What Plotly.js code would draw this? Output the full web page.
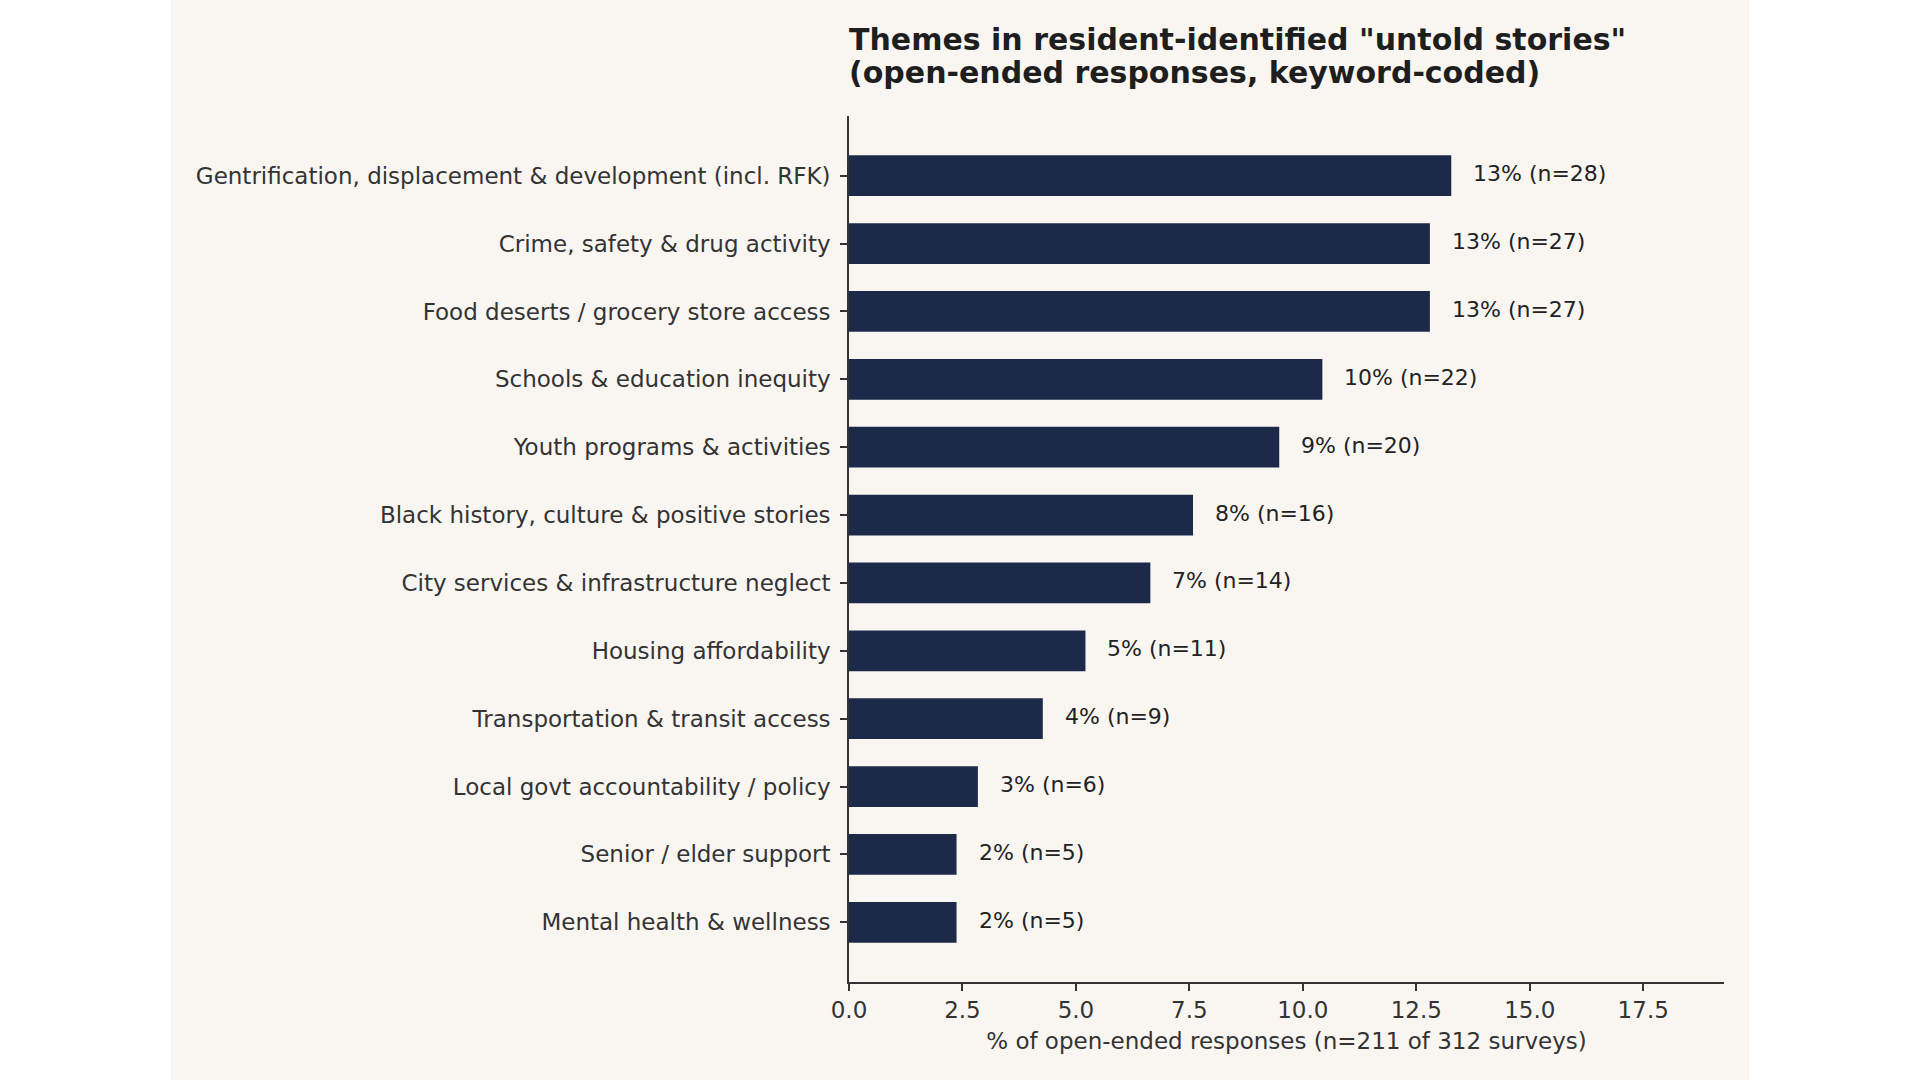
<!DOCTYPE html>
<html>
<head>
<meta charset="utf-8">
<script src="https://cdn.plot.ly/plotly-3.0.1.min.js"></script>
<style>
  html, body { margin: 0; padding: 0; background: #ffffff; }
  #themes_chart { position: absolute; left: 171px; top: 0; width: 1578px; height: 1080px; }
</style>
</head>
<body>
<div id="themes_chart"></div>
<script>
  // themes, top to bottom as drawn
  let themes = [
    "Gentrification, displacement & development (incl. RFK)",
    "Crime, safety & drug activity",
    "Food deserts / grocery store access",
    "Schools & education inequity",
    "Youth programs & activities",
    "Black history, culture & positive stories",
    "City services & infrastructure neglect",
    "Housing affordability",
    "Transportation & transit access",
    "Local govt accountability / policy",
    "Senior / elder support",
    "Mental health & wellness",
  ];
  // % of open-ended responses
  let shares = [13.27, 12.8, 12.8, 10.43, 9.48, 7.58, 6.64, 5.21, 4.27, 2.84, 2.37, 2.37];
  // number of responses per theme
  let counts = [28, 27, 27, 22, 20, 16, 14, 11, 9, 6, 5, 5];
  let xTicks = [0, 2.5, 5, 7.5, 10, 12.5, 15, 17.5];
  let titleLines = [
    "Themes in resident-identified \"untold stories\"",
    "(open-ended responses, keyword-coded)",
  ];

  let textColor = "#333333";
  let font = "DejaVu Sans, Liberation Sans, sans-serif";

  let traces = [
    {
      type: "bar",
      orientation: "h",
      x: shares,
      y: themes,
      width: 0.6,
      marker: { color: "#1c2949", line: { width: 0 } },
      hoverinfo: "x+y",
    },
  ];

  let labels = shares.map((v, i) => ({
    x: v,
    y: themes[i],
    xref: "x",
    yref: "y",
    text: Math.round(v) + "% (n=" + counts[i] + ")",
    showarrow: false,
    xanchor: "left",
    yanchor: "middle",
    xshift: 20,
    yshift: 2,
    font: { family: font, size: 22, color: "#222222" },
  }));

  // second title line (plotly's <br> spacing is looser than the original)
  labels.push({
    text: "<b>" + titleLines[1] + "</b>",
    xref: "paper",
    yref: "paper",
    x: 0,
    y: 1.0508,
    xanchor: "left",
    yanchor: "middle",
    xshift: -2,
    showarrow: false,
    font: { family: font, size: 30, color: "#1e1e1e" },
  });

  let layout = {
    width: 1578,
    height: 1080,
    paper_bgcolor: "#f9f6f2",
    plot_bgcolor: "#f9f6f2",
    margin: { l: 678, r: 25, t: 116, b: 98 },
    showlegend: false,
    font: { family: font, color: textColor },
    title: {
      text: "<b>" + titleLines[0] + "</b>",
      font: { family: font, size: 30, color: "#1e1e1e" },
      xref: "paper",
      x: 0,
      xanchor: "left",
      yref: "container",
      y: 0.963,
      yanchor: "middle",
    },
    xaxis: {
      range: [0, 19.28],
      tickvals: xTicks,
      ticktext: xTicks.map((t) => t.toFixed(1)),
      ticks: "outside",
      ticklen: 7,
      tickwidth: 1.6,
      tickcolor: "#333333",
      showline: true,
      linecolor: "#333333",
      linewidth: 1.6,
      showgrid: false,
      zeroline: false,
      tickfont: { family: font, size: 23, color: textColor },
      title: {
        text: "% of open-ended responses (n=211 of 312 surveys)",
        font: { family: font, size: 23, color: textColor },
        standoff: 10,
      },
    },
    yaxis: {
      type: "category",
      categoryorder: "array",
      categoryarray: themes,
      range: [11.88, -0.88],
      ticks: "outside",
      ticklen: 7,
      tickwidth: 1.6,
      tickcolor: "#333333",
      ticklabelstandoff: 5,
      showline: true,
      linecolor: "#333333",
      linewidth: 1.6,
      showgrid: false,
      zeroline: false,
      tickfont: { family: font, size: 23, color: textColor },
    },
    annotations: labels,
  };

  Plotly.newPlot("themes_chart", traces, layout, { displayModeBar: false, responsive: false });
</script>
</body>
</html>
